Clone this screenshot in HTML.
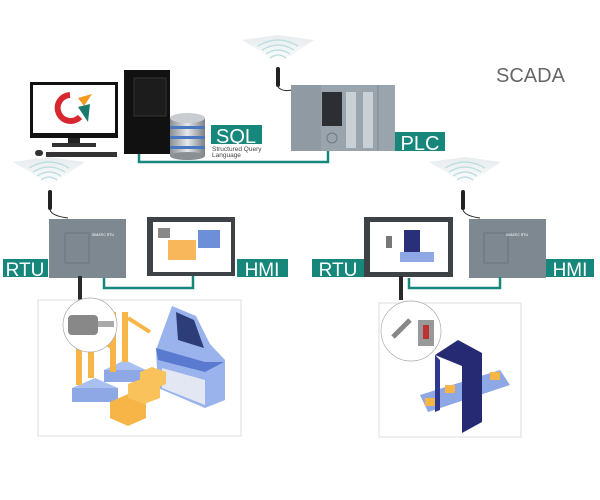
<!DOCTYPE html>
<html><head><meta charset="utf-8"><style>
html,body{margin:0;padding:0;background:#fff;width:600px;height:500px;overflow:hidden}
svg{display:block}
text{font-family:"Liberation Sans",sans-serif}
</style></head><body>
<svg width="600" height="500" viewBox="0 0 600 500">
<defs>
<radialGradient id="wf" cx="0.5" cy="1" r="1"><stop offset="0" stop-color="#fff"/><stop offset="1" stop-color="#e8ecee"/></radialGradient>
<linearGradient id="cyl" x1="0" x2="1"><stop offset="0" stop-color="#8a8f94"/><stop offset="0.5" stop-color="#e6e8ea"/><stop offset="1" stop-color="#7b8086"/></linearGradient>
</defs>
<text x="496" y="82" font-size="20" fill="#666">SCADA</text>

<g id="wifi">
<path d="M242 40 L278 35 L314 40 L280 63 Z" fill="url(#wf)"/>
<g fill="none" stroke="#bfe0e2" stroke-width="1.5">
<path d="M262 50 Q278 40 294 50"/><path d="M266 54 Q278 46 290 54"/><path d="M270 58 Q278 52 286 58"/><path d="M258 46 Q278 34 298 46"/>
</g>
</g>
<rect x="276" y="67" width="4" height="20" rx="2" fill="#222"/>
<path d="M278 87 Q282 92 292 90" stroke="#222" fill="none"/>

<use href="#wifi" transform="translate(-229,122)"/>
<rect x="48" y="190" width="4" height="20" rx="2" fill="#222"/>
<path d="M50 210 Q52 216 68 218" stroke="#222" fill="none"/>
<use href="#wifi" transform="translate(187,122)"/>
<rect x="461" y="190" width="4" height="20" rx="2" fill="#222"/>
<path d="M463 210 Q465 216 480 218" stroke="#222" fill="none"/>

<rect x="30" y="82" width="88" height="56" fill="#111"/>
<rect x="33" y="85" width="82" height="48" fill="#fff"/>
<path d="M70 95 A13 13 0 1 0 80 117" stroke="#d7282f" stroke-width="6" fill="none"/>
<path d="M78 98 L92 94 L84 106 Z" fill="#f39a1f"/>
<path d="M78 107 L90 104 L88 122 Z" fill="#1a7a6e"/>
<rect x="68" y="138" width="12" height="6" fill="#222"/>
<rect x="52" y="143" width="44" height="4" fill="#333"/>
<rect x="46" y="152" width="71" height="5" fill="#333"/>
<rect x="35" y="150" width="8" height="6" rx="3" fill="#333"/>
<rect x="124" y="70" width="46" height="84" fill="#111"/>
<rect x="134" y="78" width="32" height="38" fill="#1c1c1c" stroke="#333"/>
<rect x="170" y="118" width="35" height="38" fill="url(#cyl)"/>
<ellipse cx="187.5" cy="156" rx="17.5" ry="4" fill="#8a8f94"/>
<ellipse cx="187.5" cy="118" rx="17.5" ry="5" fill="#c9ccd0"/>
<rect x="170" y="126" width="35" height="3" fill="#4a78c0"/>
<rect x="170" y="136" width="35" height="3" fill="#4a78c0"/>
<rect x="170" y="146" width="35" height="3" fill="#4a78c0"/>
<rect x="211" y="125" width="51" height="19" fill="#17877c"/>
<text x="236" y="143" font-size="20" fill="#fff" text-anchor="middle">SQL</text>
<text x="212" y="151" font-size="6.5" fill="#444">Structured Query</text>
<text x="212" y="157" font-size="6.5" fill="#444">Language</text>

<path d="M139 154 V162 H328 V150" stroke="#17877c" stroke-width="2.5" fill="none"/>

<rect x="291" y="85" width="104" height="66" fill="#9aa4ad"/>
<rect x="291" y="85" width="30" height="66" fill="#8f9aa3"/>
<rect x="322" y="92" width="20" height="34" fill="#2b2f33"/>
<rect x="346" y="92" width="10" height="56" fill="#c9d1d6"/>
<rect x="363" y="92" width="10" height="56" fill="#c9d1d6"/>
<line x1="378" y1="85" x2="378" y2="151" stroke="#7d8790"/>
<circle cx="332" cy="138" r="5" fill="none" stroke="#6f7a82"/>
<rect x="395" y="132" width="50" height="19" fill="#17877c"/>
<text x="420" y="150" font-size="20" fill="#fff" text-anchor="middle">PLC</text>

<rect x="49" y="219" width="77" height="59" fill="#7e8890"/>
<rect x="65" y="233" width="24" height="30" fill="none" stroke="#6a747c"/>
<text x="92" y="236" font-size="3.5" fill="#fff">SIMATIC RTU</text>
<rect x="3" y="259" width="45" height="18" fill="#17877c"/>
<text x="25" y="276" font-size="19" fill="#fff" text-anchor="middle">RTU</text>
<rect x="147" y="217" width="88" height="59" fill="#3c4246"/>
<rect x="153" y="222" width="78" height="50" fill="#fff"/>
<rect x="198" y="230" width="22" height="18" fill="#6c8fd8"/>
<rect x="168" y="240" width="28" height="20" fill="#f5a531" opacity="0.8"/>
<rect x="158" y="228" width="12" height="10" fill="#888"/>
<rect x="237" y="259" width="51" height="18" fill="#17877c"/>
<text x="262" y="276" font-size="19" fill="#fff" text-anchor="middle">HMI</text>
<path d="M104 278 V288 H193 V276" stroke="#17877c" stroke-width="2.5" fill="none"/>
<rect x="78" y="276" width="4" height="24" fill="#2a2a2a"/>

<rect x="312" y="259" width="52" height="18" fill="#17877c"/>
<text x="338" y="276" font-size="19" fill="#fff" text-anchor="middle">RTU</text>
<rect x="364" y="217" width="89" height="60" fill="#3c4246"/>
<rect x="370" y="222" width="78" height="50" fill="#fff"/>
<rect x="404" y="230" width="16" height="30" fill="#2a2f7a"/>
<rect x="400" y="252" width="34" height="10" fill="#8ea8e6"/>
<rect x="386" y="236" width="6" height="12" fill="#777"/>
<rect x="469" y="219" width="77" height="59" fill="#7e8890"/>
<rect x="484" y="233" width="24" height="30" fill="none" stroke="#6a747c"/>
<text x="506" y="236" font-size="3.5" fill="#fff">SIMATIC RTU</text>
<rect x="546" y="259" width="48" height="18" fill="#17877c"/>
<text x="570" y="276" font-size="19" fill="#fff" text-anchor="middle">HMI</text>
<path d="M409 278 V288 H500 V277" stroke="#17877c" stroke-width="2.5" fill="none"/>
<rect x="399" y="276" width="4" height="24" fill="#2a2a2a"/>

<!-- bottom left panel -->
<rect x="38" y="300" width="203" height="136" fill="#fff" stroke="#ddd"/>
<!-- console -->
<path d="M172 306 L196 316 L210 344 L225 360 L225 400 L205 408 L158 388 L156 350 Z" fill="#9bb3ec"/>
<path d="M176 312 L194 320 L204 348 L178 340 Z" fill="#2c3d7a"/>
<path d="M156 348 L205 362 L224 362 L205 372 L158 360 Z" fill="#5a7ad0"/>
<path d="M162 368 L205 380 L205 405 L162 388 Z" fill="#e3e7f3"/>
<!-- robots -->
<path d="M72 388 L95 378 L118 388 L95 398 Z" fill="#a9c0f0"/>
<rect x="72" y="388" width="46" height="14" fill="#8ea8e6"/>
<path d="M104 370 L125 360 L146 370 L125 380 Z" fill="#a9c0f0"/>
<rect x="104" y="370" width="42" height="12" fill="#8ea8e6"/>
<rect x="76" y="330" width="6" height="55" fill="#f7b548"/>
<rect x="88" y="330" width="6" height="48" fill="#f7b548"/>
<rect x="110" y="312" width="6" height="60" fill="#f7b548"/>
<rect x="122" y="312" width="6" height="50" fill="#f7b548"/>
<path d="M128 318 L150 332" stroke="#f7b548" stroke-width="4"/>
<path d="M94 334 L115 350" stroke="#f7b548" stroke-width="4"/>
<path d="M110 402 L128 394 L146 402 L146 418 L128 426 L110 418 Z" fill="#f7b548"/>
<path d="M128 384 L144 378 L160 384 L160 398 L144 404 L128 398 Z" fill="#f9c25a"/>
<path d="M140 372 L152 367 L166 372 L166 384 L152 390 L140 384 Z" fill="#f9c25a"/>
<circle cx="90" cy="325" r="27" fill="#fff" stroke="#aaa" stroke-width="0.7"/>
<rect x="68" y="315" width="30" height="20" rx="4" fill="#888"/>
<rect x="98" y="321" width="16" height="6" fill="#aaa"/>

<!-- bottom right panel -->
<rect x="379" y="303" width="142" height="134" fill="#fff" stroke="#ddd"/>
<path d="M420 395 L500 370 L510 385 L428 412 Z" fill="#8ea8e6"/>
<path d="M435 355 L458 340 L482 353 L482 422 L462 433 L462 366 Z" fill="#252a72"/>
<path d="M435 355 L435 412 L440 410 L440 360 Z" fill="#2f3690"/>
<rect x="425" y="398" width="10" height="8" fill="#f7b548"/>
<rect x="445" y="385" width="10" height="8" fill="#f7b548"/>
<rect x="490" y="372" width="10" height="8" fill="#f7b548"/>
<circle cx="411" cy="331" r="30" fill="#fff" stroke="#aaa" stroke-width="0.7"/>
<path d="M393 337 L410 320" stroke="#888" stroke-width="5"/>
<rect x="418" y="320" width="16" height="26" fill="#999"/>
<rect x="423" y="325" width="6" height="14" fill="#b33"/>
</svg>
</body></html>
